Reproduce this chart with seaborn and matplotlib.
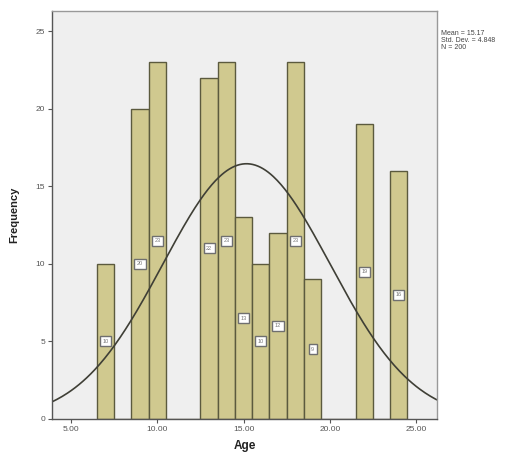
import numpy as np
import matplotlib
matplotlib.use("Agg")
import matplotlib.pyplot as plt
import seaborn as sns

# age values and their frequencies
ages = [7, 9, 10, 13, 14, 15, 16, 17, 18, 19, 22, 24]
counts = [10, 20, 23, 22, 23, 13, 10, 12, 23, 9, 19, 16]
x_ticks = [5, 10, 15, 20, 25]
y_ticks = [0, 5, 10, 15, 20, 25]

sns.set_style("white")
plt.rcParams['font.family'] = ['Liberation Sans', 'DejaVu Sans']

ages_arr = np.repeat(ages, counts)
mean = ages_arr.mean()
sd = ages_arr.std(ddof=1)
n = len(ages_arr)

fig = plt.figure(figsize=(5.2, 4.65), dpi=100)
ax = fig.add_axes([0.1, 0.099, 0.74, 0.877])
ax.set_facecolor("#efefef")

sns.histplot(x=ages, weights=counts, discrete=True, ax=ax,
             color="#d0c98f", edgecolor="#5b5a3e", linewidth=1.0, alpha=1)

# normal curve scaled to counts (bin width 1)
xs = np.linspace(3.9, 26.2, 300)
ys = n * np.exp(-0.5 * ((xs - mean) / sd) ** 2) / (sd * np.sqrt(2 * np.pi))
ax.plot(xs, ys, color="#3f3f36", lw=1.2)

# little value boxes in the middle of each bar
for a, c in zip(ages, counts):
    ax.text(a, c / 2, str(c), ha="center", va="center", fontsize=4,
            color="#777777",
            bbox=dict(boxstyle="square,pad=0.45", fc="white", ec="#6f6f6f", lw=1.0))

ax.set_xlim(3.9, 26.2)
ax.set_ylim(0, 26.3)
ax.set_xticks(x_ticks)
ax.set_xticklabels([f"{t:.2f}" for t in x_ticks])
ax.set_yticks(y_ticks)
ax.tick_params(axis="both", direction="out", length=3, width=0.8,
               labelsize=6, labelcolor="#555555", color="#555555",
               bottom=True, left=True, pad=2)

for side in ["top", "right"]:
    ax.spines[side].set_color("#999999")
for side in ["left", "bottom"]:
    ax.spines[side].set_color("#555555")
for s in ax.spines.values():
    s.set_linewidth(1.0)

ax.set_xlabel("Age", fontsize=8.5, fontweight="bold", color="#222222", labelpad=5)
ax.set_ylabel("Frequency", fontsize=8, fontweight="bold", color="#222222", labelpad=12)

fig.text(0.848, 0.935,
         f"Mean = {mean:.2f}\nStd. Dev. = {sd:.3f}\nN = {n}",
         fontsize=5, color="#444444", va="top", ha="left", linespacing=1.0)

fig.savefig("out.png", dpi=100)
